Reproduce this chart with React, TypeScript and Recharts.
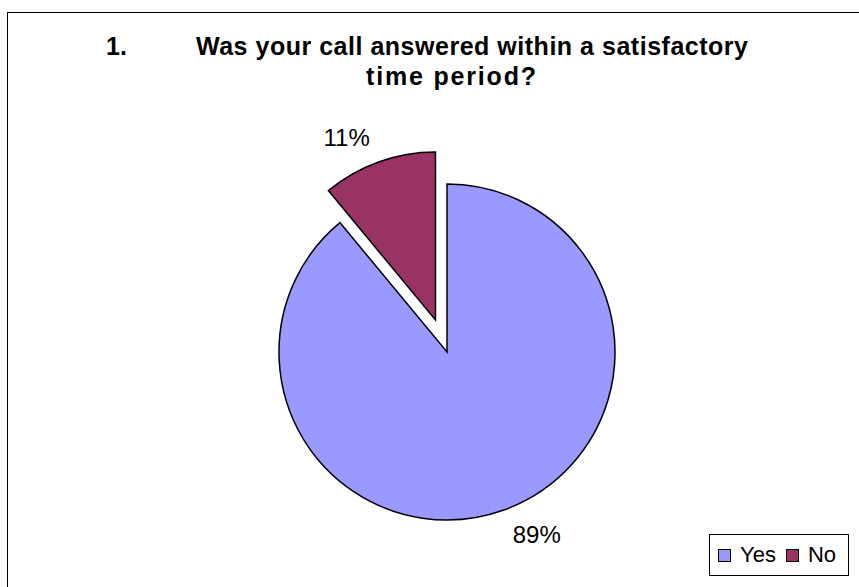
import React from 'react'
import { PieChart, Pie, Cell, Legend } from 'recharts'

const categories = ['Yes', 'No']
const values = [89, 11]
const colors = ['#9999FF', '#993366']
const titleNumber = '1.'
const titleLines = ['Was your call answered within a satisfactory', 'time period?']

const pieData = categories.map((name, i) => ({ name, value: values[i] }))

const FONT = '"Liberation Sans", Arial, sans-serif'
const CX = 447
const CY = 352
const R = 168
const EXPLODE = 34

// the "No" slice is pulled out along its own middle angle
const total = values.reduce((a, b) => a + b, 0)
const noMid = 90 + (values[1] / total) * 180
const dx = EXPLODE * Math.cos((noMid * Math.PI) / 180)
const dy = -EXPLODE * Math.sin((noMid * Math.PI) / 180)

const renderLabel = (show: number) => (props: any) => {
  const { cx, cy, midAngle, outerRadius, percent, index } = props
  if (index !== show) return null
  const rad = (-midAngle * Math.PI) / 180
  const x = cx + (outerRadius + 26) * Math.cos(rad)
  const y = cy + (outerRadius + 26) * Math.sin(rad)
  return (
    <text
      x={x}
      y={y}
      textAnchor={x > cx ? 'start' : 'end'}
      dominantBaseline="central"
      fontSize={24}
      fontFamily={FONT}
      fill="#000"
    >
      {Math.round(percent * 100)}%
    </text>
  )
}

const LegendBox = () => (
  <div
    style={{
      border: '1px solid #000',
      background: '#fff',
      width: 140,
      height: 42,
      boxSizing: 'border-box',
      display: 'flex',
      alignItems: 'center',
      paddingLeft: 8,
      fontFamily: FONT,
      fontSize: 22,
      color: '#000',
    }}
  >
    {categories.map((c, i) => (
      <span key={c} style={{ display: 'flex', alignItems: 'center', marginRight: 10 }}>
        <span
          style={{
            display: 'inline-block',
            width: 11,
            height: 11,
            background: colors[i],
            border: '1px solid #000',
            marginRight: 9,
          }}
        />
        {c}
      </span>
    ))}
  </div>
)

const App = () => {
  return (
    <div
      style={{
        position: 'absolute',
        left: 0,
        top: 0,
        width: 859,
        height: 587,
        overflow: 'hidden',
        background: '#fff',
      }}
    >
      <div
        style={{
          position: 'absolute',
          left: 7,
          top: 12,
          width: 900,
          height: 700,
          border: '1px solid #000',
        }}
      />
      <svg
        width={859}
        height={120}
        style={{ position: 'absolute', left: 0, top: 0 }}
      >
        <g fontFamily={FONT} fontWeight="bold" fontSize={25} fill="#000">
          <text x={106} y={55}>{titleNumber}</text>
          <text x={196} y={55} textLength={552} lengthAdjust="spacing">
            {titleLines[0]}
          </text>
          <text x={366} y={85} textLength={170} lengthAdjust="spacing">
            {titleLines[1]}
          </text>
        </g>
      </svg>
      <div style={{ position: 'absolute', left: 0, top: 0 }}>
        <PieChart width={859} height={587} margin={{ top: 0, right: 0, bottom: 0, left: 0 }}>
          <Pie
            data={pieData}
            dataKey="value"
            nameKey="name"
            cx={CX}
            cy={CY}
            outerRadius={R}
            startAngle={90}
            endAngle={-270}
            stroke="#000"
            strokeWidth={1.5}
            label={renderLabel(0)}
            labelLine={false}
            isAnimationActive={false}
          >
            <Cell fill={colors[0]} />
            <Cell fill="none" stroke="none" />
          </Pie>
          <Pie
            data={pieData}
            dataKey="value"
            nameKey="name"
            cx={CX + dx}
            cy={CY + dy}
            outerRadius={R}
            startAngle={90}
            endAngle={-270}
            stroke="#000"
            strokeWidth={1.5}
            label={renderLabel(1)}
            labelLine={false}
            isAnimationActive={false}
          >
            <Cell fill="none" stroke="none" />
            <Cell fill={colors[1]} />
          </Pie>
          <Legend
            content={<LegendBox />}
            wrapperStyle={{ position: 'absolute', left: 709, top: 534, width: 140 }}
          />
        </PieChart>
      </div>
    </div>
  )
}

export default App
